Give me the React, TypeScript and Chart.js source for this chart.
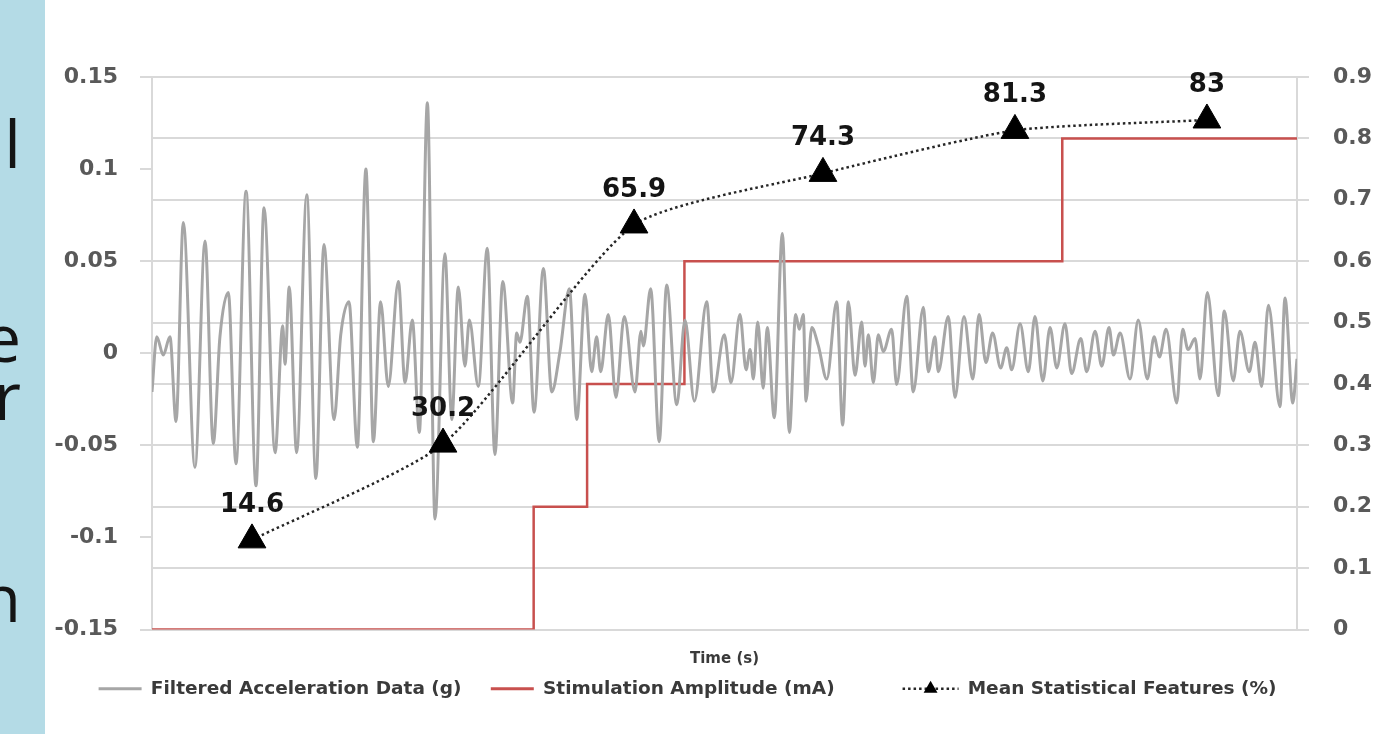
import React, { useEffect, useRef } from 'react';
import { Chart, registerables } from 'chart.js';

Chart.register(...registerables);

// ---- data ----
const accelTimes = [
  0, 0.25, 0.59, 0.94, 1.26, 1.64, 2.25, 2.78, 3.21, 3.56,
  4.0, 4.4, 4.93, 5.45, 5.87, 6.45, 6.85, 6.97, 7.19, 7.58,
  8.11, 8.59, 9.01, 9.54, 9.89, 10.32, 10.76, 11.21, 11.6, 11.98,
  12.38, 12.91, 13.26, 13.64, 14.01, 14.43, 14.83, 15.35, 15.71, 16.05,
  16.4, 16.63, 17.1, 17.57, 17.97, 18.38, 18.9, 19.11, 19.28, 19.67,
  20.02,
  20.51, 20.95, 21.38, 21.87, 22.26, 22.69, 23.04, 23.3, 23.51, 23.91,
  24.31, 24.75, 25.31, 25.62, 25.75, 26.13, 26.58, 26.97, 27.5, 27.93,
  28.42, 29.07, 29.41, 29.99, 30.34, 30.81, 31.13, 31.34, 31.51, 31.74,
  32.03, 32.24, 32.61, 33.03, 33.4, 33.73, 33.92, 34.13, 34.27, 34.57,
  34.92, 35.36, 35.88, 36.19, 36.49, 36.84, 37.19, 37.36, 37.54, 37.8,
  38.06, 38.32, 38.76, 39.02, 39.55,
  39.89, 40.42, 40.68, 41.03, 41.2, 41.73, 42.08, 42.55, 43.01, 43.34,
  43.7, 44.05, 44.47, 44.79, 45.05, 45.49, 45.92, 46.27, 46.68, 47.06,
  47.41, 47.84, 48.19, 48.67, 48.98, 49.42, 49.77, 50.15, 50.38, 50.73,
  51.25, 51.68, 52.16, 52.51, 52.79, 53.14, 53.7, 54.01, 54.29, 54.66,
  54.92, 55.3, 55.88, 56.19, 56.66, 57.01, 57.5, 57.8, 58.15, 58.5,
  59.11, 59.37, 59.78, 60.0,
];
const accelValues = [
  -0.021, 0.009, -0.001, 0.009, -0.037, 0.071, -0.062, 0.061, -0.049, 0.009,
  0.033, -0.06, 0.088, -0.072, 0.079, -0.054, 0.015, -0.006, 0.036, -0.054,
  0.086, -0.068, 0.059, -0.036, 0.01, 0.028, -0.051, 0.1, -0.048, 0.028,
  -0.018, 0.039, -0.016, 0.018, -0.043, 0.136, -0.09, 0.054, -0.036, 0.036,
  -0.007, 0.018, -0.018, 0.057, -0.055, 0.039, -0.027, 0.011, 0.006, 0.031,
  -0.032,
  0.046, -0.021, 0.001, 0.035, -0.036, 0.032, -0.01, 0.009, -0.01, 0.021,
  -0.024, 0.02, -0.021, 0.012, 0.004, 0.035, -0.048, 0.037, -0.028, 0.018,
  -0.026, 0.028, -0.021, 0.01, -0.016, 0.021, -0.009, 0.002, -0.014, 0.017,
  -0.019, 0.014, -0.035, 0.065, -0.043, 0.021, 0.013, 0.021, -0.026, 0.014,
  0.004, -0.014, 0.028, -0.039, 0.028, -0.012, 0.017, -0.007, 0.01, -0.016,
  0.01, 0.001, 0.013, -0.017, 0.031,
  -0.021, 0.025, -0.01, 0.009, -0.01, 0.02, -0.024, 0.02, -0.014, 0.021,
  -0.005, 0.011, -0.008, 0.003, -0.009, 0.016, -0.01, 0.02, -0.015, 0.014,
  -0.008, 0.016, -0.011, 0.008, -0.01, 0.012, -0.007, 0.014, -0.001, 0.011,
  -0.014, 0.018, -0.014, 0.009, -0.002, 0.013, -0.027, 0.013, 0.002, 0.008,
  -0.014, 0.033, -0.023, 0.023, -0.015, 0.012, -0.01, 0.006, -0.018, 0.026,
  -0.029, 0.03, -0.027, -0.003,
];
const stimTimes = [0, 20, 22.8, 27.9, 47.7, 60];
const stimValues = [0, 0.2, 0.4, 0.6, 0.8, 0.8];
const meanTimes = [5.24, 15.25, 25.26, 35.16, 45.22, 55.28];
const meanPercent = [14.6, 30.2, 65.9, 74.3, 81.3, 83];
const seriesLabels = [
  'Filtered Acceleration Data (g)',
  'Stimulation Amplitude (mA)',
  'Mean Statistical Features (%)',
];
const xTitle = 'Time (s)';
const panelLetters = ['l', 'e', 'r', 'n'];
const panelTops = [109, 303, 361, 563];

const GREY = '#a6a6a6';
const RED = '#c8504e';
const DARK = '#262626';
const GRID = '#d9d9d9';
const TICK_TEXT = '#595959';
const LEGEND_TEXT = '#3a3a3a';
// spacing around legend entries (Excel places them unevenly)
const legendLead = ['', '', '  '];
const legendTrail = ['   ', '         ', '  '];

const meanLabelPlugin = {
  id: 'meanLabels',
  afterDatasetsDraw(chart: any) {
    const meta = chart.getDatasetMeta(2);
    const ctx = chart.ctx;
    ctx.save();
    ctx.font = 'bold 26px "DejaVu Sans"';
    ctx.fillStyle = '#141414';
    ctx.textAlign = 'center';
    ctx.textBaseline = 'alphabetic';
    meta.data.forEach((pt: any, i: number) => {
      ctx.fillText(String(meanPercent[i]), pt.x, pt.y - 28);
    });
    ctx.restore();
  },
};

// draws the dotted-line-with-triangle legend sample of the third series
const legendSamplePlugin = {
  id: 'legendSample',
  afterDraw(chart: any) {
    const lg = chart.legend;
    if (!lg || !lg.legendHitBoxes || !lg.legendHitBoxes[2]) return;
    const hb = lg.legendHitBoxes[2];
    const cy = hb.top + hb.height / 2;
    const x0 = hb.left;
    const x1 = hb.left + 56;
    const ctx = chart.ctx;
    ctx.save();
    ctx.strokeStyle = DARK;
    ctx.lineWidth = 2.5;
    ctx.setLineDash([2.5, 3]);
    ctx.beginPath();
    ctx.moveTo(x0, cy);
    ctx.lineTo(x1, cy);
    ctx.stroke();
    ctx.setLineDash([]);
    const cx = hb.left + 28;
    const r = 8;
    ctx.fillStyle = '#000';
    ctx.beginPath();
    ctx.moveTo(cx, cy - r);
    ctx.lineTo(cx + r * Math.sin((2 * Math.PI) / 3), cy + r / 2);
    ctx.lineTo(cx - r * Math.sin((2 * Math.PI) / 3), cy + r / 2);
    ctx.closePath();
    ctx.fill();
    ctx.restore();
  },
};

export default function App() {
  const canvasRef = useRef<HTMLCanvasElement>(null);

  useEffect(() => {
    const canvas = canvasRef.current;
    if (!canvas) return;
    const colors = [GREY, RED, DARK];
    const widths = [3, 3, 0];
    const chart = new Chart(canvas, {
      type: 'line',
      data: {
        datasets: [
          {
            label: seriesLabels[0],
            data: accelTimes.map((t, i) => ({ x: t, y: accelValues[i] })),
            yAxisID: 'y',
            borderColor: GREY,
            backgroundColor: GREY,
            borderWidth: 3,
            pointRadius: 0,
            cubicInterpolationMode: 'monotone',
            order: 1,
          },
          {
            label: seriesLabels[1],
            data: stimTimes.map((t, i) => ({ x: t, y: stimValues[i] })),
            yAxisID: 'y1',
            borderColor: RED,
            backgroundColor: RED,
            borderWidth: 2.5,
            pointRadius: 0,
            stepped: 'before',
            order: 2,
          },
          {
            label: seriesLabels[2],
            data: meanTimes.map((t, i) => ({ x: t, y: meanPercent[i] / 100 })),
            yAxisID: 'y1',
            borderColor: DARK,
            backgroundColor: '#000',
            borderWidth: 2.5,
            borderDash: [2.5, 3],
            tension: 0.2,
            pointStyle: 'triangle',
            pointRadius: 16,
            pointBackgroundColor: '#000',
            pointBorderColor: '#000',
            pointBorderWidth: 1,
            order: 0,
          },
        ] as any,
      },
      options: {
        responsive: false,
        animation: false,
        events: [],
        layout: { padding: { left: 0, right: 0, top: 77, bottom: 26 } },
        plugins: {
          tooltip: { enabled: false },
          legend: {
            display: true,
            position: 'bottom',
            labels: {
              usePointStyle: true,
              pointStyleWidth: 43,
              padding: 10,
              color: LEGEND_TEXT,
              font: { family: '"DejaVu Sans"', size: 18.5, weight: 'bold' },
              generateLabels: () =>
                seriesLabels.map((txt, i) => ({
                  text: legendLead[i] + txt + legendTrail[i],
                  strokeStyle: colors[i],
                  fillStyle: colors[i],
                  lineWidth: widths[i],
                  lineDash: [],
                  pointStyle: 'line',
                  fontColor: LEGEND_TEXT,
                  hidden: false,
                  datasetIndex: i,
                })),
            },
          },
        },
        scales: {
          x: {
            type: 'linear',
            min: 0,
            max: 60,
            ticks: { display: false },
            grid: { display: false, drawTicks: false },
            border: { display: false },
            title: {
              display: true,
              text: xTitle,
              color: LEGEND_TEXT,
              font: { family: '"DejaVu Sans"', size: 15, weight: 'bold' },
              padding: { top: 21, bottom: 1 },
            },
          },
          y: {
            type: 'linear',
            position: 'left',
            min: -0.15,
            max: 0.15,
            afterFit: (s: any) => {
              s.width = 152;
            },
            ticks: {
              stepSize: 0.05,
              padding: 22,
              color: TICK_TEXT,
              font: { family: '"DejaVu Sans"', size: 22, weight: 'bold' },
              callback: (v: any) => String(Number(Number(v).toFixed(2))),
            },
            grid: {
              drawOnChartArea: true,
              color: (c: any) => (c.tick && Math.abs(c.tick.value) < 1e-9 ? GRID : 'rgba(0,0,0,0)'),
              tickColor: GRID,
              tickLength: 12,
              lineWidth: 2,
            },
            border: { display: true, color: GRID, width: 2 },
          },
          y1: {
            type: 'linear',
            position: 'right',
            min: 0,
            max: 0.9,
            afterFit: (s: any) => {
              s.width = 91;
            },
            ticks: {
              stepSize: 0.1,
              padding: 24,
              color: TICK_TEXT,
              font: { family: '"DejaVu Sans"', size: 22, weight: 'bold' },
              callback: (v: any) => String(Number(Number(v).toFixed(1))),
            },
            grid: {
              drawOnChartArea: true,
              color: GRID,
              tickColor: GRID,
              tickLength: 12,
              lineWidth: 2,
            },
            border: { display: true, color: GRID, width: 2 },
          },
        },
      } as any,
      plugins: [meanLabelPlugin, legendSamplePlugin],
    });
    return () => chart.destroy();
  }, []);

  return (
    <div
      style={{
        position: 'fixed',
        left: 0,
        top: 0,
        width: 1388,
        height: 734,
        background: '#ffffff',
        overflow: 'hidden',
      }}
    >
      <canvas
        ref={canvasRef}
        width={1388}
        height={734}
        style={{ position: 'absolute', left: 0, top: 0, width: 1388, height: 734, display: 'block' }}
      />
      <div
        style={{
          position: 'absolute',
          left: 0,
          top: 0,
          width: 45,
          height: 734,
          background: '#b4dbe6',
          overflow: 'hidden',
        }}
      >
        {panelLetters.map((ch, i) => (
          <span
            key={i}
            style={{
              position: 'absolute',
              left: -80,
              top: panelTops[i],
              width: 101,
              textAlign: 'right',
              fontFamily: '"Open Sans", sans-serif',
              fontSize: 66,
              lineHeight: '66px',
              color: '#141414',
              whiteSpace: 'nowrap',
              display: 'block',
            }}
          >
            {ch}
          </span>
        ))}
      </div>
    </div>
  );
}
